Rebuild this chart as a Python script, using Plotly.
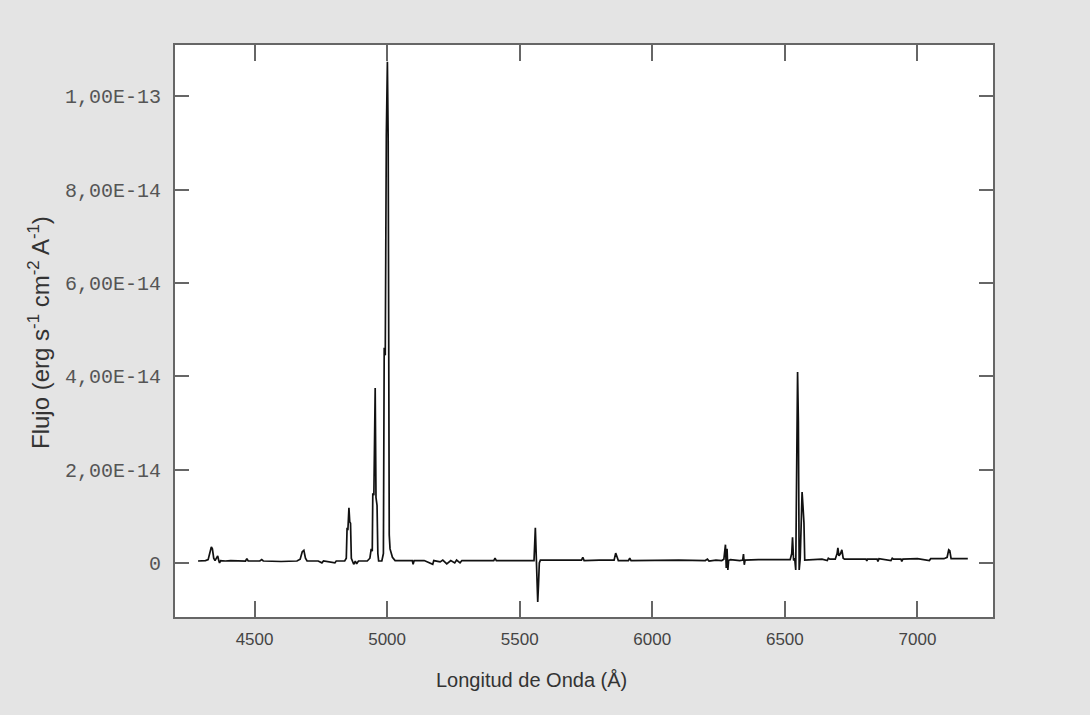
import plotly.graph_objects as go

# Wavelength (Angstrom) and flux (in units of 1e-14 erg s-1 cm-2 A-1)
wavelength = [
    4287, 4300, 4315, 4325, 4332, 4337, 4341, 4346, 4351, 4356, 4361, 4365, 4368, 4372,
    4390, 4410, 4440, 4466, 4471, 4476, 4520, 4527, 4533, 4600, 4660, 4672, 4680, 4686,
    4692, 4698, 4740, 4754, 4760, 4803, 4808, 4840, 4846, 4849, 4852, 4856, 4859, 4862,
    4865, 4869, 4874, 4880, 4885, 4892, 4925, 4935, 4940, 4944, 4946, 4950, 4955, 4958,
    4962, 4965, 4968, 4980, 4986, 4989, 4993, 4997, 5001, 5004, 5008, 5011, 5020, 5030,
    5060, 5095, 5098, 5102, 5140, 5172, 5176, 5200, 5210, 5225, 5240, 5255, 5262, 5275,
    5282, 5350, 5402, 5407, 5412, 5480, 5554, 5559, 5562, 5565, 5568, 5571, 5574, 5578,
    5650, 5733, 5738, 5743, 5800, 5856, 5862, 5868, 5872, 5910, 5915, 5920, 6000, 6100,
    6200, 6208, 6214, 6240, 6262, 6270, 6276, 6279, 6282, 6285, 6288, 6295, 6330, 6341,
    6344, 6347, 6350, 6400, 6480, 6520, 6526, 6529, 6533, 6537, 6541, 6545, 6548, 6551,
    6554, 6558, 6562, 6565, 6568, 6572, 6575, 6600, 6640, 6660, 6664, 6670, 6690, 6697,
    6700, 6704, 6710, 6715, 6720, 6725, 6780, 6806, 6809, 6812, 6848, 6851, 6855, 6900,
    6905, 6910, 6938, 6941, 6945, 7000, 7045, 7050, 7100, 7112, 7118, 7122, 7127, 7160,
    7190,
]
flux_1e14 = [
    0.04, 0.04, 0.05, 0.07, 0.20, 0.34, 0.30, 0.10, 0.05, 0.10, 0.15, 0.05, 0.00, 0.05,
    0.04, 0.05, 0.04, 0.04, 0.09, 0.04, 0.04, 0.07, 0.04, 0.03, 0.04, 0.08, 0.24, 0.27,
    0.10, 0.04, 0.04, 0.00, 0.04, 0.00, 0.04, 0.04, 0.10, 0.75, 0.70, 1.18, 0.88, 0.85,
    0.10, 0.03, -0.03, 0.04, -0.02, 0.04, 0.04, 0.10, 0.30, 0.25, 1.49, 1.45, 3.75, 1.40,
    1.23, 0.20, 0.04, 0.04, 0.20, 4.61, 4.45, 9.17, 10.74, 9.10, 0.60, 0.30, 0.12, 0.05,
    0.05, 0.05, -0.03, 0.05, 0.05, -0.03, 0.05, 0.02, 0.06, -0.02, 0.05, 0.00, 0.06, 0.00,
    0.05, 0.05, 0.05, 0.10, 0.05, 0.05, 0.05, 0.75, 0.05, -0.40, -0.84, -0.45, 0.00, 0.06,
    0.06, 0.06, 0.12, 0.05, 0.06, 0.06, 0.21, 0.10, 0.05, 0.05, 0.10, 0.05, 0.06, 0.06,
    0.05, 0.08, 0.04, 0.06, 0.05, 0.08, 0.39, -0.11, 0.30, -0.15, 0.05, 0.07, 0.05, 0.06,
    0.19, -0.04, 0.06, 0.07, 0.07, 0.07, 0.20, 0.55, 0.05, 0.10, -0.15, 3.02, 4.09, 3.02,
    -0.15, 0.10, 1.30, 1.52, 1.25, 0.86, 0.06, 0.07, 0.08, 0.05, 0.10, 0.08, 0.08, 0.20,
    0.32, 0.15, 0.20, 0.28, 0.10, 0.08, 0.08, 0.08, 0.04, 0.08, 0.08, 0.03, 0.09, 0.05,
    0.10, 0.08, 0.08, 0.03, 0.08, 0.09, 0.05, 0.09, 0.09, 0.12, 0.28, 0.26, 0.09, 0.09,
    0.09,
]
flux = [v * 1e-14 for v in flux_1e14]

x_ticks = [4500, 5000, 5500, 6000, 6500, 7000]
y_ticks = [0, 2e-14, 4e-14, 6e-14, 8e-14, 1e-13]
y_tick_labels = ["0", "2,00E-14", "4,00E-14", "6,00E-14", "8,00E-14", "1,00E-13"]

fig = go.Figure()
fig.add_trace(go.Scatter(
    x=wavelength, y=flux, mode="lines",
    line=dict(color="#111111", width=1.7),
    hoverinfo="x+y", showlegend=False,
))

axis_color = "#666666"
fig.update_layout(
    width=1090, height=715,
    margin=dict(l=175, r=97, t=45, b=98),
    paper_bgcolor="#e4e4e4",
    plot_bgcolor="#ffffff",
    xaxis=dict(
        range=[4200, 7285], tickvals=x_ticks, ticktext=[str(v) for v in x_ticks],
        ticks="inside", ticklen=16, tickwidth=1.5, tickcolor=axis_color,
        showline=True, linecolor=axis_color, linewidth=2, mirror="ticks",
        showgrid=False, zeroline=False,
        tickfont=dict(family="Liberation Sans", size=17, color="#444444"),
        ticklabelstandoff=6,
    ),
    yaxis=dict(
        range=[-1.16e-14, 1.11e-13], tickvals=y_ticks, ticktext=y_tick_labels,
        ticks="inside", ticklen=14, tickwidth=1.5, tickcolor=axis_color,
        showline=True, linecolor=axis_color, linewidth=2, mirror="ticks",
        showgrid=False, zeroline=False,
        tickfont=dict(family="Liberation Mono", size=20, color="#555555"),
        ticklabelstandoff=8,
    ),
    annotations=[
        dict(text="Longitud de Onda (Å)", xref="paper", yref="paper",
             x=(531 - 175) / (993 - 175), y=-(680 - 617) / (617 - 45),
             xanchor="center", yanchor="middle", showarrow=False,
             font=dict(family="Liberation Sans", size=20, color="#333333")),
        dict(text="Flujo (erg s<sup>-1</sup> cm<sup>-2</sup> A<sup>-1</sup>)",
             xref="paper", yref="paper",
             x=-(175 - 39) / (993 - 175), y=(617 - 333) / (617 - 45),
             xanchor="center", yanchor="middle", showarrow=False, textangle=-90,
             font=dict(family="Liberation Sans", size=24, color="#333333")),
    ],
)

fig.write_html(
    "out.html",
    config={"displayModeBar": False},
    post_script="document.body.style.margin='0';document.body.style.background='#e4e4e4';",
)
